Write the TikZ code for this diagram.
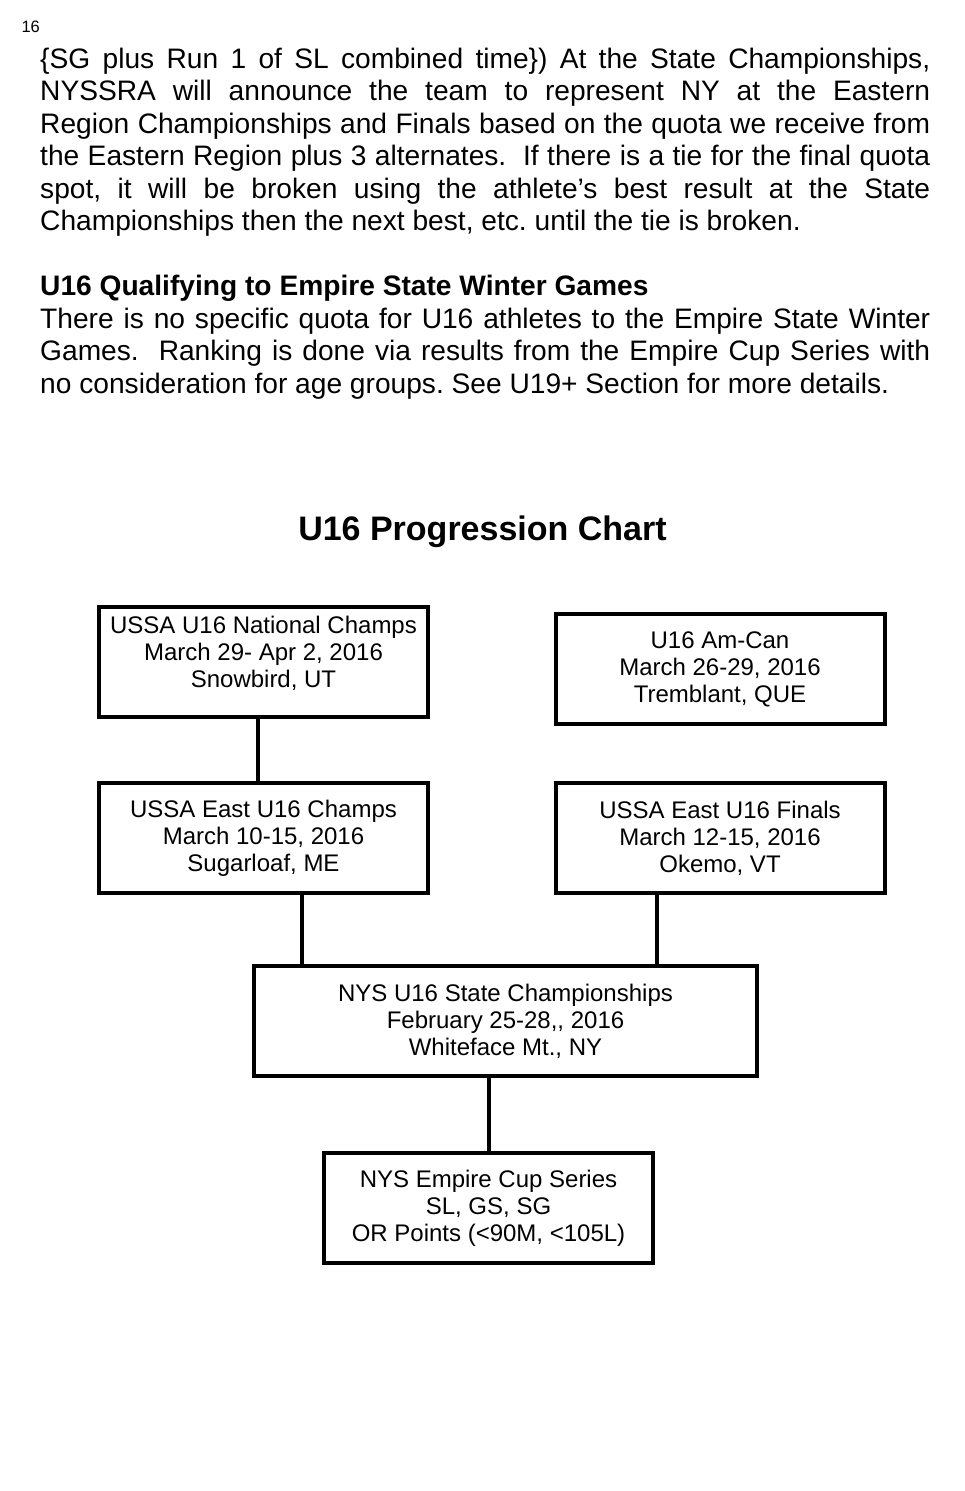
\documentclass[tikz,border=0pt]{standalone}
\usepackage{fontspec}
\setmainfont{Liberation Sans}
\usetikzlibrary{positioning}
\frenchspacing
\tikzset{
  evtbox/.style = {shape=rectangle, draw, line width=4pt,
                   minimum width=329pt, minimum height=110pt,
                   align=center, inner sep=0pt},
  widebox/.style = {evtbox, minimum width=503pt},
  body/.style   = {anchor=base west, inner sep=0pt,
                   text width=890pt, align=justify,
                   font=\fontsize{28.15}{32.5}\selectfont},
  link/.style   = {draw, line width=4pt}
}

\begin{document}
\begin{tikzpicture}
  [
  x=1pt, y=-1pt,
  every node/.style = {font=\fontsize{24}{27}\selectfont}
  ]
  \useasboundingbox (0,0) rectangle (965,1491);

  \node[anchor=base west, font=\fontsize{16.5}{20}\selectfont] (pageno) at (18,32) {16};

  % text above the chart
  \node[body] (parA) at (40,68) {\{SG plus Run 1 of SL combined time\}) At the State Championships,\linebreak
    NYSSRA will announce the team to represent NY at the Eastern\linebreak
    Region Championships and Finals based on the quota we receive from\linebreak
    the Eastern Region plus 3 alternates.\ \ If there is a tie for the final quota\linebreak
    spot, it will be broken using the athlete’s best result at the State\linebreak
    Championships then the next best, etc. until the tie is broken.};
  \node[body] (parB) at (40,295.5) {\textbf{U16 Qualifying to Empire State Winter Games}\\
    There is no specific quota for U16 athletes to the Empire State Winter\linebreak
    Games.\ \ Ranking is done via results from the Empire Cup Series with\linebreak
    no consideration for age groups. See U19+ Section for more details.};

  \node[anchor=base, font=\fontsize{34}{40}\selectfont\bfseries] (title) at (482.5,540) {U16 Progression Chart};

  % chart
  \node[evtbox, text depth=21pt] (natl) at (263.5,662) {USSA U16 National Champs\\March 29- Apr 2, 2016\\Snowbird, UT};
  \node[evtbox] (amcan) at (720,669) {U16 Am-Can\\March 26-29, 2016\\Tremblant, QUE};
  \node[evtbox] (eastChamps) at (263.5,838) {USSA East U16 Champs\\March 10-15, 2016\\Sugarloaf, ME};
  \node[evtbox] (eastFinals) at (720,838) {USSA East U16 Finals\\March 12-15, 2016\\Okemo, VT};
  \node[widebox] (state) at (505.5,1021) {NYS U16 State Championships\\February 25-28,\kern0pt,\kern0pt{} 2016\\Whiteface Mt., NY};
  \node[evtbox] (empire) at (488.5,1208) {NYS Empire Cup Series\\SL, GS, SG\\OR Points (<90M, <105L)};

  \path[link] ([xshift=-5.5pt]natl.south) -- ([xshift=-5.5pt]eastChamps.north);
  \path[link] ([xshift=38.5pt]eastChamps.south) -- ([xshift=38.5pt]eastChamps.south |- state.north);
  \path[link] ([xshift=-63pt]eastFinals.south) -- ([xshift=-63pt]eastFinals.south |- state.north);
  \path[link] (state.south -| empire.north) -- (empire.north);
\end{tikzpicture}
\end{document}
